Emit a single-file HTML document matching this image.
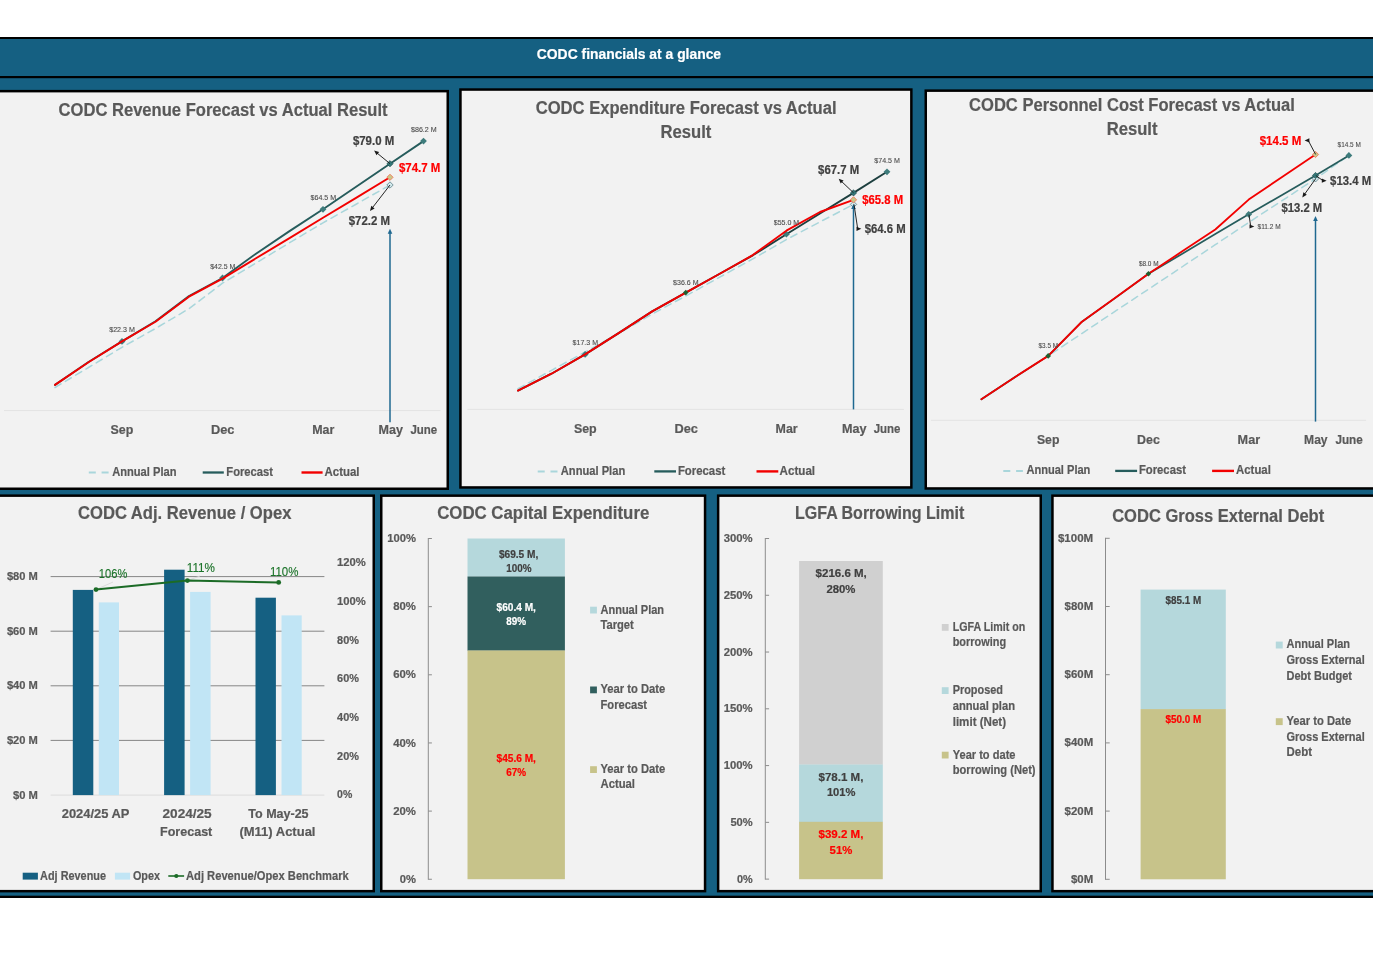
<!DOCTYPE html>
<html lang="en"><head><meta charset="utf-8"><title>CODC financials at a glance</title>
<style>html,body{margin:0;padding:0;background:#fff}svg{display:block;will-change:transform}text{font-family:'Liberation Sans', Arial, sans-serif}</style>
</head><body>
<svg width="1373" height="955" viewBox="0 0 1373 955">
<rect width="1373" height="955" fill="#fff"/>
<rect x="0" y="37" width="1373" height="861" fill="#156082"/>
<rect x="0" y="37" width="1373" height="2" fill="#000"/>
<rect x="0" y="76" width="1373" height="2.2" fill="#000"/>
<rect x="0" y="895.7" width="1373" height="2.3" fill="#000"/>
<text x="536.8" y="58.7" font-size="14" fill="#fff" font-weight="700" stroke="#fff" stroke-width="0.2" textLength="184.3" lengthAdjust="spacingAndGlyphs">CODC financials at a glance</text>
<rect x="-3.75" y="91.15" width="451.50" height="397.60" fill="#F2F2F2" stroke="#000" stroke-width="2.5"/>
<rect x="460.45" y="89.55" width="450.90" height="397.90" fill="#F2F2F2" stroke="#000" stroke-width="2.5"/>
<rect x="925.75" y="90.65" width="453.00" height="397.80" fill="#F2F2F2" stroke="#000" stroke-width="2.5"/>
<rect x="-3.75" y="495.65" width="377.50" height="395.50" fill="#F2F2F2" stroke="#000" stroke-width="2.5"/>
<rect x="381.25" y="495.65" width="323.80" height="395.50" fill="#F2F2F2" stroke="#000" stroke-width="2.5"/>
<rect x="718.15" y="495.65" width="322.60" height="395.50" fill="#F2F2F2" stroke="#000" stroke-width="2.5"/>
<rect x="1052.45" y="495.65" width="326.30" height="395.50" fill="#F2F2F2" stroke="#000" stroke-width="2.5"/>
<line x1="4" y1="410.6" x2="440.5" y2="410.6" stroke="#E3E3E3" stroke-width="1"/>
<polyline points="55.0,387.5 88.5,367.5 122.0,347.3 155.5,328.5 189.0,308.7 222.5,283.2 256.0,263.0 289.5,242.8 323.0,222.8 356.5,204.0 390.0,185.0" fill="none" stroke="#A9D6DB" stroke-width="1.5" stroke-linejoin="round" stroke-linecap="round" stroke-dasharray="7 5" stroke-linecap="butt"/>
<polyline points="55.0,384.9 88.5,362.0 122.0,341.4 155.5,321.3 189.0,296.0 222.5,278.0 256.0,253.7 289.5,231.1 323.0,209.3 356.5,186.5 390.0,163.7 423.5,141.1" fill="none" stroke="#265C5C" stroke-width="1.9" stroke-linejoin="round" stroke-linecap="round"/>
<path d="M122.0 338.0L125.4 341.4L122.0 344.8L118.6 341.4Z" fill="#3E7C7C" stroke="none" stroke-width="0.8"/>
<path d="M222.5 274.6L225.9 278.0L222.5 281.4L219.1 278.0Z" fill="#3E7C7C" stroke="none" stroke-width="0.8"/>
<path d="M323.0 205.9L326.4 209.3L323.0 212.7L319.6 209.3Z" fill="#3E7C7C" stroke="none" stroke-width="0.8"/>
<path d="M423.5 137.7L426.9 141.1L423.5 144.5L420.1 141.1Z" fill="#3E7C7C" stroke="none" stroke-width="0.8"/>
<polyline points="55.0,384.9 88.5,362.3 122.0,341.4 155.5,321.8 189.0,296.7 222.5,278.6 256.0,258.3 289.5,238.1 323.0,217.8 356.5,197.6 390.0,177.3" fill="none" stroke="#F20000" stroke-width="1.9" stroke-linejoin="round" stroke-linecap="round"/>
<path d="M390.0 181.8L393.2 185.0L390.0 188.2L386.8 185.0Z" fill="#D3EAED" stroke="#5E7F86" stroke-width="0.8"/>
<line x1="390.0" y1="422.3" x2="390.0" y2="232.7" stroke="#1F6890" stroke-width="1.5"/>
<path d="M390.0 228.7L392.3 233.7L387.7 233.7Z" fill="#1F6890"/>
<path d="M390.0 174.2L393.1 177.3L390.0 180.4L386.9 177.3Z" fill="#C9C88A" stroke="#F07A5A" stroke-width="0.9"/>
<path d="M390.0 160.6L393.1 163.7L390.0 166.8L386.9 163.7Z" fill="#347878" stroke="#1F4F4F" stroke-width="0.7"/>
<line x1="390.0" y1="163.7" x2="377.0" y2="153.0" stroke="#1a1a1a" stroke-width="0.95"/>
<path d="M374.1 150.6L379.1 152.0L376.5 155.3Z" fill="#1a1a1a"/>
<line x1="390.0" y1="185.0" x2="372.3" y2="207.9" stroke="#1a1a1a" stroke-width="0.95"/>
<path d="M370.0 210.9L371.3 205.8L374.6 208.4Z" fill="#1a1a1a"/>
<text x="411.0" y="131.9" font-size="8.0" fill="#4d4d4d" font-weight="400" stroke="#4d4d4d" stroke-width="0.12" textLength="25.6" lengthAdjust="spacingAndGlyphs">$86.2 M</text>
<text x="310.5" y="200.2" font-size="8.0" fill="#4d4d4d" font-weight="400" stroke="#4d4d4d" stroke-width="0.12" textLength="25.6" lengthAdjust="spacingAndGlyphs">$64.5 M</text>
<text x="210.2" y="268.9" font-size="8.0" fill="#4d4d4d" font-weight="400" stroke="#4d4d4d" stroke-width="0.12" textLength="25.1" lengthAdjust="spacingAndGlyphs">$42.5 M</text>
<text x="109.2" y="332.2" font-size="8.0" fill="#4d4d4d" font-weight="400" stroke="#4d4d4d" stroke-width="0.12" textLength="25.6" lengthAdjust="spacingAndGlyphs">$22.3 M</text>
<text x="352.9" y="144.9" font-size="12.2" fill="#404040" font-weight="700" stroke="#404040" stroke-width="0.2" textLength="41.3" lengthAdjust="spacingAndGlyphs">$79.0 M</text>
<text x="398.9" y="171.7" font-size="12.2" fill="#FF0000" font-weight="700" stroke="#FF0000" stroke-width="0.2" textLength="41.4" lengthAdjust="spacingAndGlyphs">$74.7 M</text>
<text x="348.7" y="224.8" font-size="12.2" fill="#404040" font-weight="700" stroke="#404040" stroke-width="0.2" textLength="41.3" lengthAdjust="spacingAndGlyphs">$72.2 M</text>
<text x="110.5" y="434.0" font-size="12.8" fill="#595959" font-weight="700" stroke="#595959" stroke-width="0.2" textLength="22.8" lengthAdjust="spacingAndGlyphs">Sep</text>
<text x="211.0" y="434.0" font-size="12.8" fill="#595959" font-weight="700" stroke="#595959" stroke-width="0.2" textLength="23.5" lengthAdjust="spacingAndGlyphs">Dec</text>
<text x="312.2" y="434.0" font-size="12.8" fill="#595959" font-weight="700" stroke="#595959" stroke-width="0.2" textLength="22.1" lengthAdjust="spacingAndGlyphs">Mar</text>
<text x="378.6" y="434.0" font-size="12.8" fill="#595959" font-weight="700" stroke="#595959" stroke-width="0.2" textLength="24.4" lengthAdjust="spacingAndGlyphs">May</text>
<text x="410.4" y="434.0" font-size="12.8" fill="#595959" font-weight="700" stroke="#595959" stroke-width="0.2" textLength="26.8" lengthAdjust="spacingAndGlyphs">June</text>
<text x="58.6" y="115.6" font-size="18" fill="#595959" font-weight="700" stroke="#595959" stroke-width="0.2" textLength="329.0" lengthAdjust="spacingAndGlyphs">CODC Revenue Forecast vs Actual Result</text>
<line x1="88.8" y1="472.5" x2="108.9" y2="472.5" stroke="#A9D6DB" stroke-width="2" stroke-dasharray="7 5.8"/>
<text x="112.2" y="475.9" font-size="12.4" fill="#595959" font-weight="700" stroke="#595959" stroke-width="0.2" textLength="64.3" lengthAdjust="spacingAndGlyphs">Annual Plan</text>
<line x1="202.7" y1="472.5" x2="223.8" y2="472.5" stroke="#265C5C" stroke-width="2.3"/>
<text x="226.3" y="475.9" font-size="12.4" fill="#595959" font-weight="700" stroke="#595959" stroke-width="0.2" textLength="46.7" lengthAdjust="spacingAndGlyphs">Forecast</text>
<line x1="301.5" y1="472.5" x2="322.6" y2="472.5" stroke="#F20000" stroke-width="2.4"/>
<text x="324.5" y="475.9" font-size="12.4" fill="#595959" font-weight="700" stroke="#595959" stroke-width="0.2" textLength="35.0" lengthAdjust="spacingAndGlyphs">Actual</text>
<line x1="467.4" y1="409.4" x2="903.9" y2="409.4" stroke="#E3E3E3" stroke-width="1"/>
<polyline points="518.0,388.7 551.5,370.3 585.1,352.0 618.6,333.5 652.2,314.0 685.8,296.0 719.3,277.4 752.8,258.9 786.4,239.5 820.0,221.9 853.5,204.4" fill="none" stroke="#A9D6DB" stroke-width="1.5" stroke-linejoin="round" stroke-linecap="round" stroke-dasharray="7 5" stroke-linecap="butt"/>
<polyline points="518.0,390.6 551.5,373.7 585.1,354.4 618.6,333.1 652.2,311.4 685.8,292.6 719.3,274.0 752.8,255.3 786.4,234.2 820.0,213.5 853.5,192.9 887.0,171.8" fill="none" stroke="#1D3F3F" stroke-width="1.9" stroke-linejoin="round" stroke-linecap="round"/>
<path d="M585.1 351.0L588.5 354.4L585.1 357.8L581.7 354.4Z" fill="#3E7C7C" stroke="none" stroke-width="0.8"/>
<path d="M786.4 230.8L789.8 234.2L786.4 237.6L783.0 234.2Z" fill="#3E7C7C" stroke="none" stroke-width="0.8"/>
<path d="M887.0 168.4L890.4 171.8L887.0 175.2L883.6 171.8Z" fill="#3E7C7C" stroke="none" stroke-width="0.8"/>
<polyline points="518.0,390.6 551.5,373.7 585.1,354.4 618.6,333.1 652.2,311.4 685.8,292.6 719.3,274.0 752.8,255.1 786.4,230.7 820.0,212.0 853.5,199.8" fill="none" stroke="#F20000" stroke-width="1.9" stroke-linejoin="round" stroke-linecap="round"/>
<path d="M685.8 289.8L688.5 292.6L685.8 295.4L683.0 292.6Z" fill="#1F5E2E" stroke="none" stroke-width="0.8"/>
<path d="M853.5 201.2L856.7 204.4L853.5 207.6L850.3 204.4Z" fill="#D3EAED" stroke="#5E7F86" stroke-width="0.8"/>
<line x1="853.5" y1="409.4" x2="853.5" y2="208.0" stroke="#1F6890" stroke-width="1.5"/>
<path d="M853.5 204.0L855.8 209.0L851.2 209.0Z" fill="#1F6890"/>
<path d="M853.5 196.7L856.6 199.8L853.5 202.9L850.4 199.8Z" fill="#C9C88A" stroke="#F07A5A" stroke-width="0.9"/>
<path d="M853.5 189.8L856.6 192.9L853.5 196.0L850.4 192.9Z" fill="#347878" stroke="#1F4F4F" stroke-width="0.7"/>
<line x1="853.6" y1="192.9" x2="841.5" y2="181.4" stroke="#1a1a1a" stroke-width="0.95"/>
<path d="M838.7 178.8L843.6 180.6L840.7 183.6Z" fill="#1a1a1a"/>
<line x1="854.0" y1="204.4" x2="857.7" y2="228.8" stroke="#1a1a1a" stroke-width="0.95"/>
<path d="M861.3 228.8L856.5 230.9L856.5 226.7Z" fill="#1a1a1a"/>
<text x="874.3" y="162.9" font-size="8.0" fill="#4d4d4d" font-weight="400" stroke="#4d4d4d" stroke-width="0.12" textLength="25.6" lengthAdjust="spacingAndGlyphs">$74.5 M</text>
<text x="773.8" y="224.9" font-size="8.0" fill="#4d4d4d" font-weight="400" stroke="#4d4d4d" stroke-width="0.12" textLength="25.4" lengthAdjust="spacingAndGlyphs">$55.0 M</text>
<text x="673.1" y="284.7" font-size="8.0" fill="#4d4d4d" font-weight="400" stroke="#4d4d4d" stroke-width="0.12" textLength="25.4" lengthAdjust="spacingAndGlyphs">$36.6 M</text>
<text x="572.6" y="345.4" font-size="8.0" fill="#4d4d4d" font-weight="400" stroke="#4d4d4d" stroke-width="0.12" textLength="25.4" lengthAdjust="spacingAndGlyphs">$17.3 M</text>
<text x="818.1" y="173.8" font-size="12.2" fill="#404040" font-weight="700" stroke="#404040" stroke-width="0.2" textLength="41.1" lengthAdjust="spacingAndGlyphs">$67.7 M</text>
<text x="862.2" y="203.9" font-size="12.2" fill="#FF0000" font-weight="700" stroke="#FF0000" stroke-width="0.2" textLength="40.9" lengthAdjust="spacingAndGlyphs">$65.8 M</text>
<text x="864.7" y="233.2" font-size="12.2" fill="#404040" font-weight="700" stroke="#404040" stroke-width="0.2" textLength="41.0" lengthAdjust="spacingAndGlyphs">$64.6 M</text>
<text x="573.9" y="432.9" font-size="12.8" fill="#595959" font-weight="700" stroke="#595959" stroke-width="0.2" textLength="22.8" lengthAdjust="spacingAndGlyphs">Sep</text>
<text x="674.4" y="432.9" font-size="12.8" fill="#595959" font-weight="700" stroke="#595959" stroke-width="0.2" textLength="23.5" lengthAdjust="spacingAndGlyphs">Dec</text>
<text x="775.6" y="432.9" font-size="12.8" fill="#595959" font-weight="700" stroke="#595959" stroke-width="0.2" textLength="22.1" lengthAdjust="spacingAndGlyphs">Mar</text>
<text x="841.9" y="432.9" font-size="12.8" fill="#595959" font-weight="700" stroke="#595959" stroke-width="0.2" textLength="24.5" lengthAdjust="spacingAndGlyphs">May</text>
<text x="873.7" y="432.9" font-size="12.8" fill="#595959" font-weight="700" stroke="#595959" stroke-width="0.2" textLength="26.8" lengthAdjust="spacingAndGlyphs">June</text>
<text x="535.7" y="114.3" font-size="18" fill="#595959" font-weight="700" stroke="#595959" stroke-width="0.2" textLength="300.9" lengthAdjust="spacingAndGlyphs">CODC Expenditure Forecast vs Actual</text>
<text x="660.5" y="138.3" font-size="18" fill="#595959" font-weight="700" stroke="#595959" stroke-width="0.2" textLength="50.9" lengthAdjust="spacingAndGlyphs">Result</text>
<line x1="537.7" y1="471.4" x2="557.8" y2="471.4" stroke="#A9D6DB" stroke-width="2" stroke-dasharray="7 5.8"/>
<text x="560.8" y="474.8" font-size="12.4" fill="#595959" font-weight="700" stroke="#595959" stroke-width="0.2" textLength="64.4" lengthAdjust="spacingAndGlyphs">Annual Plan</text>
<line x1="654.3" y1="471.4" x2="676.0" y2="471.4" stroke="#265C5C" stroke-width="2.3"/>
<text x="677.9" y="474.8" font-size="12.4" fill="#595959" font-weight="700" stroke="#595959" stroke-width="0.2" textLength="47.4" lengthAdjust="spacingAndGlyphs">Forecast</text>
<line x1="756.5" y1="471.4" x2="778.3" y2="471.4" stroke="#F20000" stroke-width="2.4"/>
<text x="779.5" y="474.8" font-size="12.4" fill="#595959" font-weight="700" stroke="#595959" stroke-width="0.2" textLength="35.6" lengthAdjust="spacingAndGlyphs">Actual</text>
<line x1="930.9" y1="420.3" x2="1366.1" y2="420.3" stroke="#E3E3E3" stroke-width="1"/>
<polyline points="981.4,399.3 1014.8,377.2 1048.2,355.9 1081.6,333.7 1115.0,311.4 1148.5,289.2 1181.9,267.0 1215.3,244.7 1248.7,222.5 1282.1,200.6 1315.5,178.8 1348.9,155.4" fill="none" stroke="#A9D6DB" stroke-width="1.5" stroke-linejoin="round" stroke-linecap="round" stroke-dasharray="7 5" stroke-linecap="butt"/>
<polyline points="981.4,399.3 1014.8,377.2 1048.2,355.9 1081.6,322.0 1115.0,298.1 1148.5,273.7 1181.9,253.9 1215.3,234.1 1248.7,214.3 1282.1,194.9 1315.5,175.5 1348.9,155.4" fill="none" stroke="#265C5C" stroke-width="1.7" stroke-linejoin="round" stroke-linecap="round"/>
<path d="M1248.7 210.9L1252.1 214.3L1248.7 217.7L1245.3 214.3Z" fill="#3E7C7C" stroke="none" stroke-width="0.8"/>
<path d="M1348.9 152.0L1352.3 155.4L1348.9 158.8L1345.5 155.4Z" fill="#3E7C7C" stroke="none" stroke-width="0.8"/>
<polyline points="981.4,399.3 1014.8,377.2 1048.2,355.9 1081.6,322.0 1115.0,298.1 1148.5,273.7 1181.9,251.6 1215.3,229.5 1248.7,199.6 1282.1,177.0 1315.5,154.5" fill="none" stroke="#F20000" stroke-width="1.85" stroke-linejoin="round" stroke-linecap="round"/>
<path d="M1048.2 353.1L1051.0 355.9L1048.2 358.7L1045.4 355.9Z" fill="#1F5E2E" stroke="none" stroke-width="0.8"/>
<path d="M1148.5 270.9L1151.2 273.7L1148.5 276.5L1145.7 273.7Z" fill="#1F5E2E" stroke="none" stroke-width="0.8"/>
<path d="M1315.5 175.6L1318.7 178.8L1315.5 182.0L1312.3 178.8Z" fill="#D3EAED" stroke="#5E7F86" stroke-width="0.8"/>
<line x1="1315.5" y1="421.6" x2="1315.5" y2="220.0" stroke="#1F6890" stroke-width="1.5"/>
<path d="M1315.5 216.0L1317.8 221.0L1313.2 221.0Z" fill="#1F6890"/>
<path d="M1315.5 151.4L1318.6 154.5L1315.5 157.6L1312.4 154.5Z" fill="#C9C88A" stroke="#F07A5A" stroke-width="0.9"/>
<path d="M1315.5 172.4L1318.6 175.5L1315.5 178.6L1312.4 175.5Z" fill="#347878" stroke="#1F4F4F" stroke-width="0.7"/>
<line x1="1315.6" y1="154.4" x2="1308.2" y2="140.4" stroke="#1a1a1a" stroke-width="0.95"/>
<path d="M1304.6 140.4L1309.4 138.3L1309.4 142.5Z" fill="#1a1a1a"/>
<line x1="1315.8" y1="175.5" x2="1323.0" y2="180.7" stroke="#1a1a1a" stroke-width="0.95"/>
<path d="M1326.6 180.7L1321.8 182.8L1321.8 178.6Z" fill="#1a1a1a"/>
<line x1="1315.6" y1="178.8" x2="1304.5" y2="194.3" stroke="#1a1a1a" stroke-width="0.95"/>
<path d="M1302.3 197.4L1303.4 192.3L1306.8 194.7Z" fill="#1a1a1a"/>
<line x1="1249.0" y1="214.6" x2="1250.7" y2="226.5" stroke="#1a1a1a" stroke-width="0.95"/>
<path d="M1254.3 226.5L1249.5 228.6L1249.5 224.4Z" fill="#1a1a1a"/>
<text x="1337.6" y="146.5" font-size="8.0" fill="#4d4d4d" font-weight="400" stroke="#4d4d4d" stroke-width="0.12" textLength="23.2" lengthAdjust="spacingAndGlyphs">$14.5 M</text>
<text x="1257.6" y="228.7" font-size="8.0" fill="#4d4d4d" font-weight="400" stroke="#4d4d4d" stroke-width="0.12" textLength="23.1" lengthAdjust="spacingAndGlyphs">$11.2 M</text>
<text x="1138.9" y="265.9" font-size="8.0" fill="#4d4d4d" font-weight="400" stroke="#4d4d4d" stroke-width="0.12" textLength="19.6" lengthAdjust="spacingAndGlyphs">$8.0 M</text>
<text x="1038.6" y="348.3" font-size="8.0" fill="#4d4d4d" font-weight="400" stroke="#4d4d4d" stroke-width="0.12" textLength="19.4" lengthAdjust="spacingAndGlyphs">$3.5 M</text>
<text x="1259.7" y="144.5" font-size="12.2" fill="#FF0000" font-weight="700" stroke="#FF0000" stroke-width="0.2" textLength="41.6" lengthAdjust="spacingAndGlyphs">$14.5 M</text>
<text x="1330.1" y="185.2" font-size="12.2" fill="#404040" font-weight="700" stroke="#404040" stroke-width="0.2" textLength="41.0" lengthAdjust="spacingAndGlyphs">$13.4 M</text>
<text x="1281.5" y="211.5" font-size="12.2" fill="#404040" font-weight="700" stroke="#404040" stroke-width="0.2" textLength="40.7" lengthAdjust="spacingAndGlyphs">$13.2 M</text>
<text x="1036.9" y="443.8" font-size="12.8" fill="#595959" font-weight="700" stroke="#595959" stroke-width="0.2" textLength="22.5" lengthAdjust="spacingAndGlyphs">Sep</text>
<text x="1137.1" y="443.8" font-size="12.8" fill="#595959" font-weight="700" stroke="#595959" stroke-width="0.2" textLength="22.8" lengthAdjust="spacingAndGlyphs">Dec</text>
<text x="1237.6" y="443.8" font-size="12.8" fill="#595959" font-weight="700" stroke="#595959" stroke-width="0.2" textLength="22.5" lengthAdjust="spacingAndGlyphs">Mar</text>
<text x="1304.1" y="443.8" font-size="12.8" fill="#595959" font-weight="700" stroke="#595959" stroke-width="0.2" textLength="23.5" lengthAdjust="spacingAndGlyphs">May</text>
<text x="1335.4" y="443.8" font-size="12.8" fill="#595959" font-weight="700" stroke="#595959" stroke-width="0.2" textLength="27.4" lengthAdjust="spacingAndGlyphs">June</text>
<text x="969.1" y="111.3" font-size="18" fill="#595959" font-weight="700" stroke="#595959" stroke-width="0.2" textLength="325.8" lengthAdjust="spacingAndGlyphs">CODC Personnel Cost Forecast vs Actual</text>
<text x="1106.7" y="135.1" font-size="18" fill="#595959" font-weight="700" stroke="#595959" stroke-width="0.2" textLength="50.8" lengthAdjust="spacingAndGlyphs">Result</text>
<line x1="1003.3" y1="470.9" x2="1022.9" y2="470.9" stroke="#A9D6DB" stroke-width="2" stroke-dasharray="7 5.8"/>
<text x="1026.4" y="474.2" font-size="12.4" fill="#595959" font-weight="700" stroke="#595959" stroke-width="0.2" textLength="64.0" lengthAdjust="spacingAndGlyphs">Annual Plan</text>
<line x1="1115.2" y1="470.9" x2="1137.1" y2="470.9" stroke="#265C5C" stroke-width="2.3"/>
<text x="1138.9" y="474.2" font-size="12.4" fill="#595959" font-weight="700" stroke="#595959" stroke-width="0.2" textLength="47.1" lengthAdjust="spacingAndGlyphs">Forecast</text>
<line x1="1212.1" y1="470.9" x2="1234.0" y2="470.9" stroke="#F20000" stroke-width="2.4"/>
<text x="1236.1" y="474.2" font-size="12.4" fill="#595959" font-weight="700" stroke="#595959" stroke-width="0.2" textLength="34.7" lengthAdjust="spacingAndGlyphs">Actual</text>
<text x="78.0" y="519.4" font-size="18" fill="#595959" font-weight="700" stroke="#595959" stroke-width="0.2" textLength="213.4" lengthAdjust="spacingAndGlyphs">CODC Adj. Revenue / Opex</text>
<line x1="50.6" y1="576.6" x2="324.4" y2="576.6" stroke="#868686" stroke-width="1"/>
<line x1="50.6" y1="631.2" x2="324.4" y2="631.2" stroke="#868686" stroke-width="1"/>
<line x1="50.6" y1="685.8" x2="324.4" y2="685.8" stroke="#868686" stroke-width="1"/>
<line x1="50.6" y1="740.4" x2="324.4" y2="740.4" stroke="#868686" stroke-width="1"/>
<line x1="50.6" y1="795.1" x2="324.4" y2="795.1" stroke="#DCDCDC" stroke-width="1"/>
<text x="6.9" y="580.1" font-size="11.3" fill="#595959" font-weight="700" stroke="#595959" stroke-width="0.2" textLength="31.0" lengthAdjust="spacingAndGlyphs">$80 M</text>
<text x="6.9" y="634.7" font-size="11.3" fill="#595959" font-weight="700" stroke="#595959" stroke-width="0.2" textLength="31.0" lengthAdjust="spacingAndGlyphs">$60 M</text>
<text x="6.9" y="689.3" font-size="11.3" fill="#595959" font-weight="700" stroke="#595959" stroke-width="0.2" textLength="31.0" lengthAdjust="spacingAndGlyphs">$40 M</text>
<text x="6.9" y="743.9" font-size="11.3" fill="#595959" font-weight="700" stroke="#595959" stroke-width="0.2" textLength="31.0" lengthAdjust="spacingAndGlyphs">$20 M</text>
<text x="13.0" y="798.6" font-size="11.3" fill="#595959" font-weight="700" stroke="#595959" stroke-width="0.2" textLength="24.9" lengthAdjust="spacingAndGlyphs">$0 M</text>
<text x="337.1" y="798.1" font-size="11.3" fill="#595959" font-weight="700" stroke="#595959" stroke-width="0.2" textLength="15.2" lengthAdjust="spacingAndGlyphs">0%</text>
<text x="337.1" y="759.5" font-size="11.3" fill="#595959" font-weight="700" stroke="#595959" stroke-width="0.2" textLength="21.9" lengthAdjust="spacingAndGlyphs">20%</text>
<text x="337.1" y="720.8" font-size="11.3" fill="#595959" font-weight="700" stroke="#595959" stroke-width="0.2" textLength="21.9" lengthAdjust="spacingAndGlyphs">40%</text>
<text x="337.1" y="682.2" font-size="11.3" fill="#595959" font-weight="700" stroke="#595959" stroke-width="0.2" textLength="21.9" lengthAdjust="spacingAndGlyphs">60%</text>
<text x="337.1" y="643.6" font-size="11.3" fill="#595959" font-weight="700" stroke="#595959" stroke-width="0.2" textLength="21.9" lengthAdjust="spacingAndGlyphs">80%</text>
<text x="337.1" y="605.0" font-size="11.3" fill="#595959" font-weight="700" stroke="#595959" stroke-width="0.2" textLength="28.8" lengthAdjust="spacingAndGlyphs">100%</text>
<text x="337.1" y="566.3" font-size="11.3" fill="#595959" font-weight="700" stroke="#595959" stroke-width="0.2" textLength="28.8" lengthAdjust="spacingAndGlyphs">120%</text>
<rect x="72.8" y="589.9" width="20.5" height="205.2" fill="#156082"/>
<rect x="98.8" y="602.4" width="20.2" height="192.7" fill="#C1E5F5"/>
<rect x="164.1" y="569.7" width="20.5" height="225.4" fill="#156082"/>
<rect x="190.1" y="591.9" width="20.5" height="203.2" fill="#C1E5F5"/>
<rect x="255.5" y="597.7" width="20.4" height="197.4" fill="#156082"/>
<rect x="281.5" y="615.4" width="20.2" height="179.7" fill="#C1E5F5"/>
<line x1="96" y1="589.6" x2="113" y2="582" stroke="#D5D5D5" stroke-width="0.8"/>
<line x1="187.4" y1="580.6" x2="200" y2="576" stroke="#D5D5D5" stroke-width="0.8"/>
<polyline points="96.0,589.6 187.4,580.6 278.7,582.4" fill="none" stroke="#1B6B26" stroke-width="2.0" stroke-linejoin="round" stroke-linecap="round"/>
<circle cx="96.0" cy="589.6" r="2.4" fill="#1B6B26"/>
<circle cx="187.4" cy="580.6" r="2.4" fill="#1B6B26"/>
<circle cx="278.7" cy="582.4" r="2.4" fill="#1B6B26"/>
<text x="98.8" y="577.5" font-size="12.2" fill="#1B7329" font-weight="400" stroke="#1B7329" stroke-width="0.12" textLength="28.5" lengthAdjust="spacingAndGlyphs">106%</text>
<text x="186.8" y="571.9" font-size="12.2" fill="#1B7329" font-weight="400" stroke="#1B7329" stroke-width="0.12" textLength="28.2" lengthAdjust="spacingAndGlyphs">111%</text>
<text x="269.9" y="576.1" font-size="12.2" fill="#1B7329" font-weight="400" stroke="#1B7329" stroke-width="0.12" textLength="28.5" lengthAdjust="spacingAndGlyphs">110%</text>
<text x="61.7" y="817.9" font-size="12.8" fill="#595959" font-weight="700" stroke="#595959" stroke-width="0.2" textLength="67.8" lengthAdjust="spacingAndGlyphs">2024/25 AP</text>
<text x="162.5" y="817.9" font-size="12.8" fill="#595959" font-weight="700" stroke="#595959" stroke-width="0.2" textLength="49.2" lengthAdjust="spacingAndGlyphs">2024/25</text>
<text x="160.0" y="835.9" font-size="12.8" fill="#595959" font-weight="700" stroke="#595959" stroke-width="0.2" textLength="52.3" lengthAdjust="spacingAndGlyphs">Forecast</text>
<text x="248.3" y="817.9" font-size="12.8" fill="#595959" font-weight="700" stroke="#595959" stroke-width="0.2" textLength="60.3" lengthAdjust="spacingAndGlyphs">To May-25</text>
<text x="239.4" y="835.9" font-size="12.8" fill="#595959" font-weight="700" stroke="#595959" stroke-width="0.2" textLength="76.1" lengthAdjust="spacingAndGlyphs">(M11) Actual</text>
<rect x="22.7" y="872.7" width="15.2" height="6.9" fill="#156082"/>
<text x="40.1" y="879.7" font-size="12.4" fill="#595959" font-weight="700" stroke="#595959" stroke-width="0.2" textLength="65.9" lengthAdjust="spacingAndGlyphs">Adj Revenue</text>
<rect x="114.9" y="872.7" width="15.2" height="6.9" fill="#C1E5F5"/>
<text x="132.9" y="879.7" font-size="12.4" fill="#595959" font-weight="700" stroke="#595959" stroke-width="0.2" textLength="27.1" lengthAdjust="spacingAndGlyphs">Opex</text>
<line x1="168.3" y1="876" x2="184.1" y2="876" stroke="#1B6B26" stroke-width="1.6"/>
<circle cx="176.3" cy="876" r="2.1" fill="#1B6B26"/>
<text x="186.0" y="879.7" font-size="12.4" fill="#595959" font-weight="700" stroke="#595959" stroke-width="0.2" textLength="162.7" lengthAdjust="spacingAndGlyphs">Adj Revenue/Opex Benchmark</text>
<text x="437.2" y="519.2" font-size="18" fill="#595959" font-weight="700" stroke="#595959" stroke-width="0.2" textLength="212.1" lengthAdjust="spacingAndGlyphs">CODC Capital Expenditure</text>
<line x1="428.3" y1="538.0" x2="428.3" y2="879.75" stroke="#8C8C8C" stroke-width="1"/>
<line x1="428.3" y1="538.5" x2="431.90000000000003" y2="538.5" stroke="#8C8C8C" stroke-width="1"/>
<line x1="428.3" y1="606.65" x2="431.90000000000003" y2="606.65" stroke="#8C8C8C" stroke-width="1"/>
<line x1="428.3" y1="674.8" x2="431.90000000000003" y2="674.8" stroke="#8C8C8C" stroke-width="1"/>
<line x1="428.3" y1="742.95" x2="431.90000000000003" y2="742.95" stroke="#8C8C8C" stroke-width="1"/>
<line x1="428.3" y1="811.1" x2="431.90000000000003" y2="811.1" stroke="#8C8C8C" stroke-width="1"/>
<line x1="428.3" y1="879.25" x2="431.90000000000003" y2="879.25" stroke="#8C8C8C" stroke-width="1"/>
<text x="387.2" y="542.0" font-size="11.3" fill="#595959" font-weight="700" stroke="#595959" stroke-width="0.2" textLength="28.8" lengthAdjust="spacingAndGlyphs">100%</text>
<text x="393.2" y="610.1" font-size="11.3" fill="#595959" font-weight="700" stroke="#595959" stroke-width="0.2" textLength="22.8" lengthAdjust="spacingAndGlyphs">80%</text>
<text x="393.2" y="678.3" font-size="11.3" fill="#595959" font-weight="700" stroke="#595959" stroke-width="0.2" textLength="22.8" lengthAdjust="spacingAndGlyphs">60%</text>
<text x="393.2" y="746.5" font-size="11.3" fill="#595959" font-weight="700" stroke="#595959" stroke-width="0.2" textLength="22.8" lengthAdjust="spacingAndGlyphs">40%</text>
<text x="393.2" y="814.6" font-size="11.3" fill="#595959" font-weight="700" stroke="#595959" stroke-width="0.2" textLength="22.8" lengthAdjust="spacingAndGlyphs">20%</text>
<text x="399.8" y="882.8" font-size="11.3" fill="#595959" font-weight="700" stroke="#595959" stroke-width="0.2" textLength="16.2" lengthAdjust="spacingAndGlyphs">0%</text>
<rect x="467.5" y="538.5" width="97.4" height="38.1" fill="#B5D8DC"/>
<rect x="467.5" y="576.5" width="97.4" height="74.2" fill="#315F5E"/>
<rect x="467.5" y="650.5" width="97.4" height="228.7" fill="#C7C38A"/>
<text x="498.9" y="558.4" font-size="10.3" fill="#404040" font-weight="700" stroke="#404040" stroke-width="0.2" textLength="39.4" lengthAdjust="spacingAndGlyphs">$69.5 M,</text>
<text x="506.2" y="571.9" font-size="10.3" fill="#404040" font-weight="700" stroke="#404040" stroke-width="0.2" textLength="25.3" lengthAdjust="spacingAndGlyphs">100%</text>
<text x="496.5" y="611.1" font-size="10.3" fill="#fff" font-weight="700" stroke="#fff" stroke-width="0.2" textLength="39.4" lengthAdjust="spacingAndGlyphs">$60.4 M,</text>
<text x="506.2" y="624.9" font-size="10.3" fill="#fff" font-weight="700" stroke="#fff" stroke-width="0.2" textLength="19.8" lengthAdjust="spacingAndGlyphs">89%</text>
<text x="496.5" y="762.1" font-size="10.3" fill="#FF0000" font-weight="700" stroke="#FF0000" stroke-width="0.2" textLength="39.4" lengthAdjust="spacingAndGlyphs">$45.6 M,</text>
<text x="506.2" y="775.8" font-size="10.3" fill="#FF0000" font-weight="700" stroke="#FF0000" stroke-width="0.2" textLength="19.8" lengthAdjust="spacingAndGlyphs">67%</text>
<rect x="590.1" y="606.7" width="6.8" height="6.8" fill="#B5D8DC"/>
<text x="600.5" y="613.6" font-size="12.4" fill="#595959" font-weight="700" stroke="#595959" stroke-width="0.2" textLength="63.6" lengthAdjust="spacingAndGlyphs">Annual Plan</text>
<text x="600.5" y="629.0" font-size="12.4" fill="#595959" font-weight="700" stroke="#595959" stroke-width="0.2" textLength="33.3" lengthAdjust="spacingAndGlyphs">Target</text>
<rect x="590.1" y="686.5" width="6.8" height="6.8" fill="#315F5E"/>
<text x="600.5" y="693.4" font-size="12.4" fill="#595959" font-weight="700" stroke="#595959" stroke-width="0.2" textLength="64.8" lengthAdjust="spacingAndGlyphs">Year to Date</text>
<text x="600.5" y="708.8" font-size="12.4" fill="#595959" font-weight="700" stroke="#595959" stroke-width="0.2" textLength="46.6" lengthAdjust="spacingAndGlyphs">Forecast</text>
<rect x="590.1" y="766.2" width="6.8" height="6.8" fill="#C7C38A"/>
<text x="600.5" y="773.0" font-size="12.4" fill="#595959" font-weight="700" stroke="#595959" stroke-width="0.2" textLength="64.8" lengthAdjust="spacingAndGlyphs">Year to Date</text>
<text x="600.5" y="788.4" font-size="12.4" fill="#595959" font-weight="700" stroke="#595959" stroke-width="0.2" textLength="34.5" lengthAdjust="spacingAndGlyphs">Actual</text>
<text x="795.0" y="519.2" font-size="18" fill="#595959" font-weight="700" stroke="#595959" stroke-width="0.2" textLength="169.3" lengthAdjust="spacingAndGlyphs">LGFA Borrowing Limit</text>
<line x1="765.3" y1="538.0" x2="765.3" y2="879.62" stroke="#8C8C8C" stroke-width="1"/>
<line x1="765.3" y1="538.5" x2="769.0999999999999" y2="538.5" stroke="#8C8C8C" stroke-width="1"/>
<line x1="765.3" y1="595.27" x2="769.0999999999999" y2="595.27" stroke="#8C8C8C" stroke-width="1"/>
<line x1="765.3" y1="652.04" x2="769.0999999999999" y2="652.04" stroke="#8C8C8C" stroke-width="1"/>
<line x1="765.3" y1="708.81" x2="769.0999999999999" y2="708.81" stroke="#8C8C8C" stroke-width="1"/>
<line x1="765.3" y1="765.58" x2="769.0999999999999" y2="765.58" stroke="#8C8C8C" stroke-width="1"/>
<line x1="765.3" y1="822.35" x2="769.0999999999999" y2="822.35" stroke="#8C8C8C" stroke-width="1"/>
<line x1="765.3" y1="879.12" x2="769.0999999999999" y2="879.12" stroke="#8C8C8C" stroke-width="1"/>
<text x="723.7" y="542.0" font-size="11.3" fill="#595959" font-weight="700" stroke="#595959" stroke-width="0.2" textLength="29.0" lengthAdjust="spacingAndGlyphs">300%</text>
<text x="723.7" y="598.8" font-size="11.3" fill="#595959" font-weight="700" stroke="#595959" stroke-width="0.2" textLength="29.0" lengthAdjust="spacingAndGlyphs">250%</text>
<text x="723.7" y="655.5" font-size="11.3" fill="#595959" font-weight="700" stroke="#595959" stroke-width="0.2" textLength="29.0" lengthAdjust="spacingAndGlyphs">200%</text>
<text x="723.7" y="712.3" font-size="11.3" fill="#595959" font-weight="700" stroke="#595959" stroke-width="0.2" textLength="29.0" lengthAdjust="spacingAndGlyphs">150%</text>
<text x="723.7" y="769.1" font-size="11.3" fill="#595959" font-weight="700" stroke="#595959" stroke-width="0.2" textLength="29.0" lengthAdjust="spacingAndGlyphs">100%</text>
<text x="730.4" y="825.9" font-size="11.3" fill="#595959" font-weight="700" stroke="#595959" stroke-width="0.2" textLength="22.3" lengthAdjust="spacingAndGlyphs">50%</text>
<text x="737.0" y="882.6" font-size="11.3" fill="#595959" font-weight="700" stroke="#595959" stroke-width="0.2" textLength="15.7" lengthAdjust="spacingAndGlyphs">0%</text>
<rect x="799.1" y="561.0" width="83.7" height="203.7" fill="#D0D0D0"/>
<rect x="799.1" y="764.5" width="83.7" height="57.5" fill="#B5D8DC"/>
<rect x="799.1" y="821.8" width="83.7" height="57.4" fill="#C7C38A"/>
<text x="815.6" y="577.2" font-size="11.6" fill="#404040" font-weight="700" stroke="#404040" stroke-width="0.2" textLength="51.2" lengthAdjust="spacingAndGlyphs">$216.6 M,</text>
<text x="826.4" y="592.9" font-size="11.6" fill="#404040" font-weight="700" stroke="#404040" stroke-width="0.2" textLength="29.1" lengthAdjust="spacingAndGlyphs">280%</text>
<text x="818.5" y="780.7" font-size="11.6" fill="#404040" font-weight="700" stroke="#404040" stroke-width="0.2" textLength="44.9" lengthAdjust="spacingAndGlyphs">$78.1 M,</text>
<text x="826.9" y="796.4" font-size="11.6" fill="#404040" font-weight="700" stroke="#404040" stroke-width="0.2" textLength="28.6" lengthAdjust="spacingAndGlyphs">101%</text>
<text x="818.5" y="838.0" font-size="11.6" fill="#FF0000" font-weight="700" stroke="#FF0000" stroke-width="0.2" textLength="44.9" lengthAdjust="spacingAndGlyphs">$39.2 M,</text>
<text x="829.6" y="853.5" font-size="11.6" fill="#FF0000" font-weight="700" stroke="#FF0000" stroke-width="0.2" textLength="22.7" lengthAdjust="spacingAndGlyphs">51%</text>
<rect x="941.8" y="624.0" width="6.8" height="6.8" fill="#D0D0D0"/>
<text x="952.7" y="630.7" font-size="12.4" fill="#595959" font-weight="700" stroke="#595959" stroke-width="0.2" textLength="72.5" lengthAdjust="spacingAndGlyphs">LGFA Limit on</text>
<text x="952.7" y="646.2" font-size="12.4" fill="#595959" font-weight="700" stroke="#595959" stroke-width="0.2" textLength="53.4" lengthAdjust="spacingAndGlyphs">borrowing</text>
<rect x="941.8" y="687.2" width="6.8" height="6.8" fill="#B5D8DC"/>
<text x="952.7" y="694.1" font-size="12.4" fill="#595959" font-weight="700" stroke="#595959" stroke-width="0.2" textLength="50.3" lengthAdjust="spacingAndGlyphs">Proposed</text>
<text x="952.7" y="710.2" font-size="12.4" fill="#595959" font-weight="700" stroke="#595959" stroke-width="0.2" textLength="62.3" lengthAdjust="spacingAndGlyphs">annual plan</text>
<text x="952.7" y="725.9" font-size="12.4" fill="#595959" font-weight="700" stroke="#595959" stroke-width="0.2" textLength="53.4" lengthAdjust="spacingAndGlyphs">limit (Net)</text>
<rect x="941.8" y="751.7" width="6.8" height="6.8" fill="#C7C38A"/>
<text x="952.7" y="758.5" font-size="12.4" fill="#595959" font-weight="700" stroke="#595959" stroke-width="0.2" textLength="62.8" lengthAdjust="spacingAndGlyphs">Year to date</text>
<text x="952.7" y="774.2" font-size="12.4" fill="#595959" font-weight="700" stroke="#595959" stroke-width="0.2" textLength="82.9" lengthAdjust="spacingAndGlyphs">borrowing (Net)</text>
<text x="1112.2" y="521.7" font-size="18" fill="#595959" font-weight="700" stroke="#595959" stroke-width="0.2" textLength="212.0" lengthAdjust="spacingAndGlyphs">CODC Gross External Debt</text>
<line x1="1105.5" y1="537.8" x2="1105.5" y2="879.8" stroke="#8C8C8C" stroke-width="1"/>
<line x1="1105.5" y1="538.3" x2="1109.7" y2="538.3" stroke="#8C8C8C" stroke-width="1"/>
<line x1="1105.5" y1="606.5" x2="1109.7" y2="606.5" stroke="#8C8C8C" stroke-width="1"/>
<line x1="1105.5" y1="674.6999999999999" x2="1109.7" y2="674.6999999999999" stroke="#8C8C8C" stroke-width="1"/>
<line x1="1105.5" y1="742.9" x2="1109.7" y2="742.9" stroke="#8C8C8C" stroke-width="1"/>
<line x1="1105.5" y1="811.0999999999999" x2="1109.7" y2="811.0999999999999" stroke="#8C8C8C" stroke-width="1"/>
<line x1="1105.5" y1="879.3" x2="1109.7" y2="879.3" stroke="#8C8C8C" stroke-width="1"/>
<text x="1057.9" y="541.8" font-size="11.3" fill="#595959" font-weight="700" stroke="#595959" stroke-width="0.2" textLength="35.3" lengthAdjust="spacingAndGlyphs">$100M</text>
<text x="1064.6" y="610.0" font-size="11.3" fill="#595959" font-weight="700" stroke="#595959" stroke-width="0.2" textLength="28.6" lengthAdjust="spacingAndGlyphs">$80M</text>
<text x="1064.6" y="678.2" font-size="11.3" fill="#595959" font-weight="700" stroke="#595959" stroke-width="0.2" textLength="28.6" lengthAdjust="spacingAndGlyphs">$60M</text>
<text x="1064.6" y="746.4" font-size="11.3" fill="#595959" font-weight="700" stroke="#595959" stroke-width="0.2" textLength="28.6" lengthAdjust="spacingAndGlyphs">$40M</text>
<text x="1064.6" y="814.6" font-size="11.3" fill="#595959" font-weight="700" stroke="#595959" stroke-width="0.2" textLength="28.6" lengthAdjust="spacingAndGlyphs">$20M</text>
<text x="1071.0" y="882.8" font-size="11.3" fill="#595959" font-weight="700" stroke="#595959" stroke-width="0.2" textLength="22.2" lengthAdjust="spacingAndGlyphs">$0M</text>
<rect x="1140.6" y="589.6" width="85.2" height="119.7" fill="#B5D8DC"/>
<rect x="1140.6" y="709.1" width="85.2" height="170.2" fill="#C7C38A"/>
<text x="1165.6" y="603.8" font-size="10.3" fill="#404040" font-weight="700" stroke="#404040" stroke-width="0.2" textLength="35.7" lengthAdjust="spacingAndGlyphs">$85.1 M</text>
<text x="1165.6" y="723.3" font-size="10.3" fill="#FF0000" font-weight="700" stroke="#FF0000" stroke-width="0.2" textLength="35.7" lengthAdjust="spacingAndGlyphs">$50.0 M</text>
<rect x="1275.8" y="641.6" width="6.9" height="6.9" fill="#B5D8DC"/>
<text x="1286.5" y="648.2" font-size="12.4" fill="#595959" font-weight="700" stroke="#595959" stroke-width="0.2" textLength="63.6" lengthAdjust="spacingAndGlyphs">Annual Plan</text>
<text x="1286.5" y="664.2" font-size="12.4" fill="#595959" font-weight="700" stroke="#595959" stroke-width="0.2" textLength="78.2" lengthAdjust="spacingAndGlyphs">Gross External</text>
<text x="1286.5" y="679.8" font-size="12.4" fill="#595959" font-weight="700" stroke="#595959" stroke-width="0.2" textLength="65.5" lengthAdjust="spacingAndGlyphs">Debt Budget</text>
<rect x="1275.8" y="718.2" width="6.9" height="6.9" fill="#C7C38A"/>
<text x="1286.5" y="724.8" font-size="12.4" fill="#595959" font-weight="700" stroke="#595959" stroke-width="0.2" textLength="64.8" lengthAdjust="spacingAndGlyphs">Year to Date</text>
<text x="1286.5" y="740.8" font-size="12.4" fill="#595959" font-weight="700" stroke="#595959" stroke-width="0.2" textLength="78.2" lengthAdjust="spacingAndGlyphs">Gross External</text>
<text x="1286.5" y="756.3" font-size="12.4" fill="#595959" font-weight="700" stroke="#595959" stroke-width="0.2" textLength="25.5" lengthAdjust="spacingAndGlyphs">Debt</text>
</svg>
</body></html>
